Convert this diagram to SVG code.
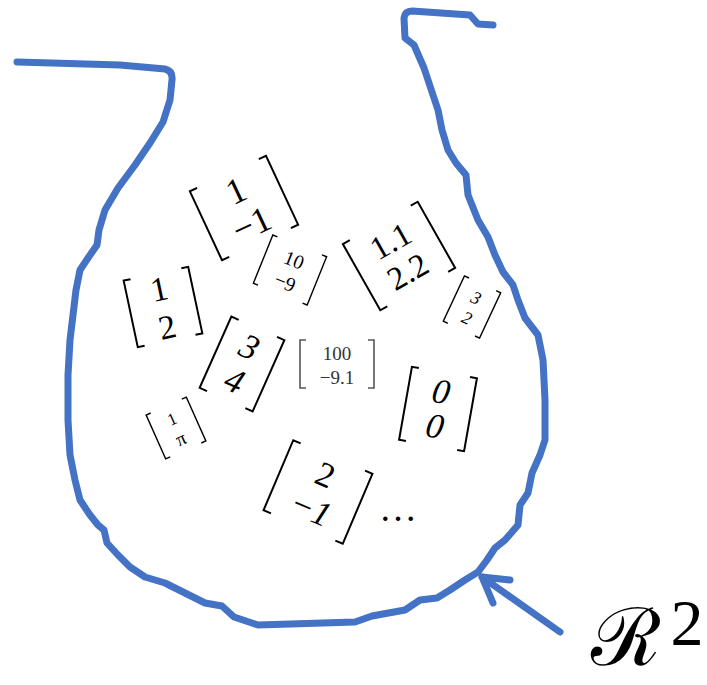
<svg xmlns="http://www.w3.org/2000/svg" width="707" height="685" viewBox="0 0 707 685">
<style>
.blob{fill:none;stroke:#4472C4;stroke-width:7;stroke-linecap:round;stroke-linejoin:round}
.br{fill:none;stroke:#000;stroke-width:2}
.brs{fill:none;stroke:#000;stroke-width:1.4}
.brg{fill:none;stroke:#555;stroke-width:1.6}
text{font-family:"Liberation Serif","DejaVu Serif",serif;text-anchor:middle;fill:#000}
.it{font-style:italic}
</style>
<rect width="707" height="685" fill="#fff"/>
<g id="region">
<path class="blob" d="M17,62 L120,65 L165,69 Q173,71 172,80 L170,100 L163,122 L150,143 L135,165 L118,188 L105,210 L99,230 L97,245 L88,258 L80,270 L76,290 L73,315 L70,340 L68,375 L68,420 L70,455 L75,480 L80,500 L90,515 L98,525 L104,530 L107,543 L118,555 L130,567 L145,577 L165,583 L185,593 L205,603 L222,606 L234,617 L258,625 L355,622 L372,616 L405,610 L420,600 L437,598 L450,590 L465,580 L478,572 L487,560 L495,548 L505,540 L518,525 L520,505 L528,493 L532,473 L540,455 L545,440 L545,400 L543,360 L538,335 L525,318 L518,300 L513,285 L503,272 L495,255 L488,237 L478,220 L468,195 L466,175 L456,163 L448,150 L442,130 L438,110 L432,92 L424,68 L414,45 L405,38 L404,18 Q405,11 412,11 L470,15 L478,24 L493,25"/>
</g>
<g id="connectors">
<path class="blob" d="M560,632 L482,577 M482,577 L510,580 M482,577 L493,603"/>
</g>
<g id="label-R2">
<text x="626" y="665" style="font-family:'DejaVu Serif','Liberation Serif',serif;font-size:80px">ℛ</text>
<text x="687" y="645" style="font-size:66px">2</text>
</g>
<g id="v1" transform="translate(244,208) rotate(-25)">
<path class="br" d="M-34,-38 L-42,-38 L-42,38 L-34,38 M34,-38 L42,-38 L42,38 L34,38"/>
<text y="-7" style="font-size:36px">1</text>
<text y="30" style="font-size:36px">−1</text>
</g>
<g id="v2" transform="translate(290,270) rotate(22)">
<path class="brs" d="M-24,-26 L-29,-26 L-29,26 L-24,26 M24,-26 L29,-26 L29,26 L24,26"/>
<text y="-4" style="font-size:20px">10</text>
<text y="20" style="font-size:20px">−9</text>
</g>
<g id="v3" transform="translate(399,256) rotate(-29.5)">
<path class="br" d="M-35,-38 L-43,-38 L-43,38 L-35,38 M35,-38 L43,-38 L43,38 L35,38"/>
<text y="-6" style="font-size:33px">1.1</text>
<text y="29" style="font-size:33px">2.2</text>
</g>
<g id="v4" transform="translate(472,307) rotate(25)">
<path class="brs" d="M-15,-25 L-20,-25 L-20,25 L-15,25 M15,-25 L20,-25 L20,25 L15,25"/>
<text class="it" y="-4" style="font-size:18px">3</text>
<text class="it" y="18" style="font-size:18px">2</text>
</g>
<g id="v5" transform="translate(163,307) rotate(-12)">
<path class="br" d="M-26,-34 L-33,-34 L-33,34 L-26,34 M26,-34 L33,-34 L33,34 L26,34"/>
<text y="-7" style="font-size:34px">1</text>
<text y="32" style="font-size:34px">2</text>
</g>
<g id="v6" transform="translate(242,364) rotate(24)">
<path class="br" d="M-21,-39 L-29,-39 L-29,39 L-21,39 M21,-39 L29,-39 L29,39 L21,39"/>
<text class="it" y="-7" style="font-size:35px">3</text>
<text class="it" y="30" style="font-size:35px">4</text>
</g>
<g id="v7" transform="translate(337,364)">
<path class="brg" d="M-31,-24 L-37,-24 L-37,24 L-31,24 M31,-24 L37,-24 L37,24 L31,24"/>
<text y="-4" style="font-size:19px;fill:#333">100</text>
<text y="20" style="font-size:19px;fill:#333">−9.1</text>
</g>
<g id="v8" transform="translate(176,428) rotate(-24)">
<path class="brs" d="M-17,-24 L-22,-24 L-22,24 L-17,24 M17,-24 L22,-24 L22,24 L17,24"/>
<text y="-4" style="font-size:17px">1</text>
<text y="18" style="font-size:19px">π</text>
</g>
<g id="v9" transform="translate(438,409) rotate(10)">
<path class="br" d="M-26,-37 L-33,-37 L-33,37 L-26,37 M26,-37 L33,-37 L33,37 L26,37"/>
<text class="it" y="-6" style="font-size:35px">0</text>
<text class="it" y="29" style="font-size:35px">0</text>
</g>
<g id="v10" transform="translate(318,492) rotate(23)">
<path class="br" d="M-35,-38 L-43,-38 L-43,38 L-35,38 M35,-38 L43,-38 L43,38 L35,38"/>
<text y="-7" style="font-size:35px">2</text>
<text class="it" y="30" style="font-size:35px">−1</text>
</g>
<g id="dots">
<text x="398" y="521" style="font-size:38px">…</text>
</g>
</svg>
